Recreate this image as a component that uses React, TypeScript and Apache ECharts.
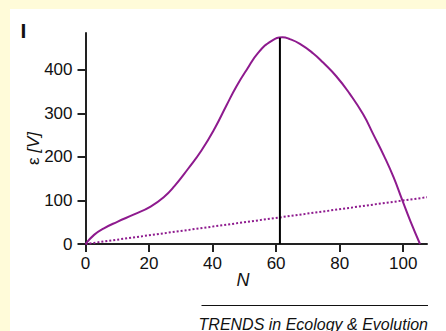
import React, { useEffect, useRef } from 'react';
import * as echarts from 'echarts';

const curveN = [0, 2.7, 5.8, 10, 15.3, 20.5, 24.7, 28, 32.3, 36.5, 40.7, 44.4, 47.5, 50.7, 54.4, 58.6, 62, 64.3, 67.5, 71.7, 74.8, 79, 83.2, 87.4, 90.6, 94, 97, 99.6, 102.3, 105.3];
const curveV = [0, 21, 36, 51, 68, 86, 108, 133, 173, 215, 266, 319, 362, 400, 440, 467, 475, 471, 460, 438, 417, 385, 345, 298, 252, 202, 153, 103, 52, 0];
const peakN = [61.2, 61.2];
const peakV = [0, 474];
const refN = [0, 107.5];
const refV = [0, 107.5];
const xTicks = [0, 20, 40, 60, 80, 100];
const yTicks = [0, 100, 200, 300, 400];
const panelLabel = 'I';
const xName = 'N';
const footer = 'TRENDS in Ecology & Evolution';

const FONT = 'Liberation Sans, Arial, Helvetica, sans-serif';
const PURPLE = '#8e1a8e';
const AXIS = '#222';

export default function App() {
  const ref = useRef<HTMLDivElement>(null);
  useEffect(() => {
    const chart = echarts.init(ref.current!, null, { renderer: 'svg' });
    const zip = (a: number[], b: number[]) => a.map((v, i) => [v, b[i]]);
    chart.setOption({
      animation: false,
      backgroundColor: '#fffbd9',
      grid: { left: 85.5, right: 19, top: 33, bottom: 87, containLabel: false },
      xAxis: {
        type: 'value', min: 0, max: 107.5, interval: 20,
        axisLine: { show: true, onZero: false, lineStyle: { color: AXIS, width: 2 } },
        axisTick: { show: true, length: 8, lineStyle: { color: AXIS, width: 2 }, customValues: xTicks },
        axisLabel: { customValues: xTicks, fontSize: 17, color: '#111', margin: 11, fontFamily: FONT },
        splitLine: { show: false },
      },
      yAxis: {
        type: 'value', min: 0, max: 485, interval: 100,
        axisLine: { show: true, onZero: false, lineStyle: { color: AXIS, width: 2 } },
        axisTick: { show: true, length: 8, lineStyle: { color: AXIS, width: 2 }, customValues: yTicks },
        axisLabel: { customValues: yTicks, fontSize: 17, color: '#111', margin: 13, fontFamily: FONT },
        splitLine: { show: false },
      },
      graphic: [
        { type: 'rect', z: -10, shape: { x: 10, y: 9, width: 436, height: 322 }, style: { fill: '#ffffff' } },
        { type: 'text', x: 23.5, y: 30.5, style: { text: panelLabel, font: `bold 21px ${FONT}`, fill: '#111', align: 'center', verticalAlign: 'middle' } },
        {
          type: 'text', x: 33, y: 148.5, rotation: Math.PI / 2,
          style: {
            text: '{a|ε}{b| [V]}', align: 'center', verticalAlign: 'middle',
            rich: {
              a: { fontSize: 17, fontFamily: FONT, fill: '#111' },
              b: { fontSize: 17, fontFamily: FONT, fontStyle: 'italic', fill: '#111' },
            },
          },
        },
        { type: 'text', x: 243, y: 280, style: { text: xName, font: `italic 18px ${FONT}`, fill: '#111', align: 'center', verticalAlign: 'middle' } },
        { type: 'line', shape: { x1: 201.5, y1: 305.5, x2: 428, y2: 305.5 }, style: { stroke: '#111', lineWidth: 1 } },
        { type: 'text', x: 428, y: 324, style: { text: footer, font: `italic 16px ${FONT}`, fill: '#111', align: 'right', verticalAlign: 'middle' } },
      ],
      series: [
        {
          type: 'line', data: zip(refN, refV), showSymbol: false, symbol: 'none',
          lineStyle: { color: PURPLE, width: 2, type: [2, 2] }, z: 3,
        },
        {
          type: 'line', data: zip(curveN, curveV), showSymbol: false, symbol: 'none', smooth: 0.5,
          lineStyle: { color: PURPLE, width: 2 }, z: 4,
        },
        {
          type: 'line', data: zip(peakN, peakV), showSymbol: false, symbol: 'none',
          lineStyle: { color: '#000', width: 2 }, z: 5,
        },
      ],
    });
    return () => chart.dispose();
  }, []);
  return <div ref={ref} style={{ position: 'fixed', left: 0, top: 0, width: 446, height: 331 }} />;
}
